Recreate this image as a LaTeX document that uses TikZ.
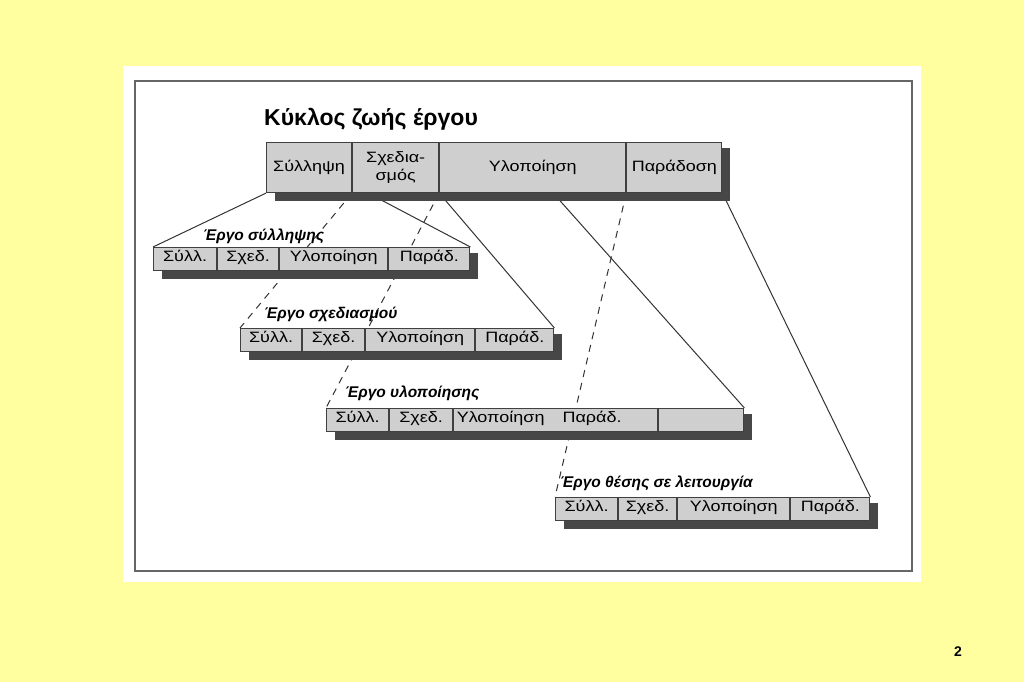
\documentclass[tikz,border=0pt]{standalone}
\usepackage{fontspec}
\setmainfont{Liberation Sans}
\newfontfamily\cellfont[FakeStretch=1.2]{Liberation Sans}
\usetikzlibrary{positioning,backgrounds}
\definecolor{bgyellow}{HTML}{FFFFA0}
\definecolor{cellgray}{HTML}{CFCFCF}
\definecolor{shadowgray}{HTML}{474747}
\tikzset{
  cell/.style={draw=black!75, line width=1.1pt, fill=cellgray, inner sep=0pt,
    font=\cellfont\fontsize{15}{17}\selectfont},
  bigcell/.style={cell, minimum height=50pt, align=center,
    font=\cellfont\fontsize{15}{18}\selectfont},
  oneline/.style={text height=11pt, text depth=4pt},
  smallcell/.style={cell, minimum height=23pt, text height=9pt, text depth=4.5pt},
  phase/.style={anchor=base west, inner sep=0pt,
    font=\bfseries\itshape\fontsize{15.5}{18}\selectfont},
  link/.style={line width=1pt, black!80},
  hidden/.style={link, dash pattern=on 7pt off 6pt},
  shade/.style={fill=shadowgray},
}

\begin{document}
\begin{tikzpicture}[x=1pt, y=-1pt]
\useasboundingbox (0,0) rectangle (1024,682);
% title:
\node[anchor=base west, inner sep=0pt, font=\bfseries\fontsize{23}{27}\selectfont] (title) at (264,125) {Κύκλος ζωής έργου};
% main cycle:
\node[bigcell, oneline, anchor=north west, minimum width=85pt] (m1) at (266,142) {Σύλληψη};
\node[bigcell, right=0pt of m1, minimum width=86pt] (m2) {Σχεδια-\\σμός};
\node[bigcell, oneline, right=0pt of m2, minimum width=186pt] (m3) {Υλοποίηση};
\node[bigcell, oneline, right=0pt of m3, minimum width=95pt] (m4) {Παράδοση};
% conception project:
\node[phase] (la) at (203,240) {Έργο σύλληψης};
\node[smallcell, anchor=north west, minimum width=63pt] (a1) at (153,247) {Σύλλ.};
\node[smallcell, right=0pt of a1, minimum width=61pt] (a2) {Σχεδ.};
\node[smallcell, right=0pt of a2, minimum width=108pt] (a3) {Υλοποίηση};
\node[smallcell, right=0pt of a3, minimum width=81pt] (a4) {Παράδ.};
% design project:
\node[phase] (lb) at (264,318) {Έργο σχεδιασμού};
\node[smallcell, anchor=north west, minimum width=61pt] (b1) at (240,328) {Σύλλ.};
\node[smallcell, right=0pt of b1, minimum width=62pt] (b2) {Σχεδ.};
\node[smallcell, right=0pt of b2, minimum width=109pt] (b3) {Υλοποίηση};
\node[smallcell, right=0pt of b3, minimum width=78pt] (b4) {Παράδ.};
% implementation project:
\node[phase] (lc) at (345,397) {Έργο υλοποίησης};
\node[smallcell, anchor=north west, minimum width=62pt] (c1) at (326,408) {Σύλλ.};
\node[smallcell, right=0pt of c1, minimum width=63pt] (c2) {Σχεδ.};
\node[smallcell, right=0pt of c2, minimum width=204pt] (c3) {\makebox[198pt][l]{Υλοποίηση\hspace{18pt}Παράδ.}};
\node[smallcell, right=0pt of c3, minimum width=85pt] (c4) {};
% commissioning project:
\node[phase] (ld) at (560,487) {Έργο θέσης σε λειτουργία};
\node[smallcell, anchor=north west, minimum width=62pt] (d1) at (555,497) {Σύλλ.};
\node[smallcell, right=0pt of d1, minimum width=58pt] (d2) {Σχεδ.};
\node[smallcell, right=0pt of d2, minimum width=112pt] (d3) {Υλοποίηση};
\node[smallcell, right=0pt of d3, minimum width=79pt] (d4) {Παράδ.};
% page number:
\node[font=\bfseries\fontsize{14}{16}\selectfont] (page) at (958,652) {2};
\begin{pgfonlayer}{background}
% panel:
\fill[bgyellow] (0,0) rectangle (1024,682);
\fill[white] (123,66) rectangle (921,582);
\draw[black!60, line width=1.2pt] (135,81) rectangle (912,571);
% zoom lines:
\draw[link] (m1.south west) -- (a1.north west);
\draw[link] ([xshift=16pt]m2.south west) -- (a4.north east);
\draw[hidden] (m2.south west) -- (b1.north west);
\draw[link] (m3.south west) -- (b4.north east);
\draw[hidden] (m3.south west) -- (c1.north west);
\draw[link] ([xshift=114pt]m3.south west) -- (c4.north east);
\draw[hidden] (m4.south west) -- (d1.north west);
\draw[link] (m4.south east) -- (d4.north east);
% shadows:
\fill[shade] ([xshift=9pt,yshift=-8pt]m1.south west) rectangle ([xshift=8pt,yshift=-6pt]m4.north east);
\fill[shade] ([xshift=9pt,yshift=-8pt]a1.south west) rectangle ([xshift=8pt,yshift=-6pt]a4.north east);
\fill[shade] ([xshift=9pt,yshift=-8pt]b1.south west) rectangle ([xshift=8pt,yshift=-6pt]b4.north east);
\fill[shade] ([xshift=9pt,yshift=-8pt]c1.south west) rectangle ([xshift=8pt,yshift=-6pt]c4.north east);
\fill[shade] ([xshift=9pt,yshift=-8pt]d1.south west) rectangle ([xshift=8pt,yshift=-6pt]d4.north east);
\end{pgfonlayer}
\end{tikzpicture}
\end{document}
